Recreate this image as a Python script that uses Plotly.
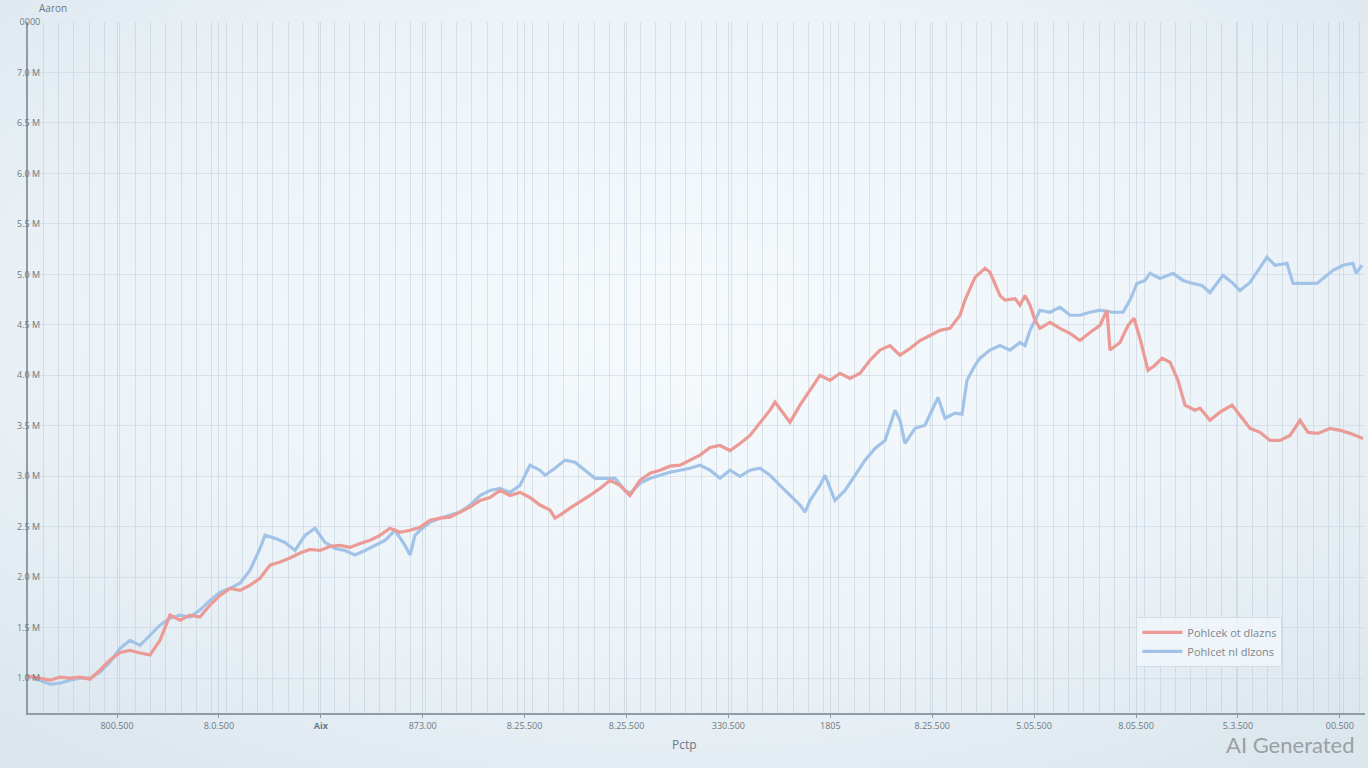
import urllib.parse
import plotly.graph_objects as go

# values (x: sample index, y: axis units)
red_x = [0.0, 1.2, 2.2, 3.2, 4.2, 5.2, 6.2, 7.2, 8.2, 9.2, 10.2, 11.2, 12.2, 13.2, 14.2, 15.2,
         16.2, 17.2, 18.2, 19.2, 20.2, 21.2, 22.2, 23.2, 24.2, 25.2, 26.2, 27.2, 28.2, 29.2, 30.2,
         31.2, 32.2, 33.2, 34.2, 35.2, 36.2, 37.2, 38.2, 39.2, 40.2, 41.2, 42.2, 43.2, 44.2, 45.2,
         46.2, 47.2, 48.2, 49.2, 50.2, 51.2, 52.2, 52.7, 53.2, 54.2, 55.2, 56.2, 57.2, 58.2, 59.2,
         60.2, 61.2, 62.2, 63.2, 64.2, 65.2, 66.2, 67.2, 68.2, 69.2, 70.2, 71.2, 72.2, 73.2, 74.2,
         74.7, 75.7, 76.2, 77.2, 78.2, 79.2, 80.2, 81.2, 82.2, 83.2, 84.2, 85.2, 86.2, 87.2, 88.2,
         89.2, 90.2, 91.2, 92.2, 93.2, 93.7, 94.7, 95.7, 96.2, 97.2, 97.7, 98.7, 99.2, 99.7, 100.2,
         100.7, 101.2, 102.2, 103.2, 104.2, 105.2, 106.2, 107.2, 107.9, 108.2, 109.2, 110.0, 110.6,
         111.2, 112.0, 112.7, 113.4, 114.2, 115.0, 115.7, 116.7, 117.2, 118.2, 119.2, 120.4, 121.2,
         122.2, 123.2, 124.2, 125.2, 126.2, 127.2, 128.0, 129.0, 130.2, 131.2, 132.2, 133.5]
red_y = [1.04, 1.00, 0.96, 1.02, 1.00, 1.02, 0.98, 1.16, 1.36, 1.51, 1.55, 1.50, 1.46, 1.75, 2.25,
         2.15, 2.25, 2.21, 2.45, 2.64, 2.78, 2.74, 2.84, 2.98, 3.24, 3.30, 3.38, 3.48, 3.55, 3.53,
         3.61, 3.63, 3.59, 3.67, 3.73, 3.83, 3.97, 3.89, 3.93, 3.99, 4.13, 4.17, 4.19, 4.29, 4.39,
         4.52, 4.58, 4.72, 4.62, 4.68, 4.58, 4.43, 4.33, 4.17, 4.23, 4.37, 4.49, 4.62, 4.76, 4.92,
         4.82, 4.62, 4.92, 5.06, 5.12, 5.20, 5.22, 5.32, 5.42, 5.57, 5.61, 5.51, 5.65, 5.81, 6.05,
         6.31, 6.47, 6.21, 6.07, 6.41, 6.70, 7.00, 6.90, 7.04, 6.94, 7.04, 7.30, 7.50, 7.59, 7.40,
         7.53, 7.69, 7.79, 7.89, 7.93, 8.19, 8.49, 8.94, 9.12, 9.04, 8.58, 8.49, 8.52, 8.39, 8.58,
         8.39, 8.09, 7.93, 8.05, 7.93, 7.83, 7.69, 7.85, 7.99, 8.29, 7.50, 7.65, 7.99, 8.13, 7.73,
         7.10, 7.20, 7.34, 7.26, 6.90, 6.41, 6.31, 6.35, 6.11, 6.27, 6.41, 6.21, 5.95, 5.87, 5.71,
         5.71, 5.81, 6.11, 5.87, 5.85, 5.95, 5.91, 5.85, 5.75]

blue_x = [0.0, 1.2, 2.2, 3.2, 4.2, 5.2, 6.2, 7.2, 8.2, 9.2, 10.2, 11.2, 12.2, 13.2, 14.2, 15.2,
          16.2, 17.2, 18.2, 19.2, 20.2, 21.2, 22.2, 23.2, 23.7, 24.7, 25.7, 26.7, 27.7, 28.7, 29.7,
          30.7, 31.7, 32.7, 33.7, 34.7, 35.7, 36.7, 37.7, 38.2, 38.7, 39.2, 40.2, 41.2, 42.2, 43.2,
          44.2, 45.2, 46.2, 47.2, 48.2, 49.2, 49.7, 50.2, 51.2, 51.7, 52.7, 53.7, 54.7, 55.7, 56.7,
          57.7, 58.7, 59.7, 60.2, 61.2, 62.2, 63.2, 64.2, 65.2, 66.2, 67.2, 68.2, 69.2, 70.2, 71.2,
          72.2, 73.2, 74.2, 75.2, 76.2, 77.2, 77.7, 78.2, 79.2, 79.7, 80.7, 81.7, 82.7, 83.7, 84.7,
          85.7, 86.7, 87.2, 87.7, 88.7, 89.7, 91.0, 91.7, 92.7, 93.4, 93.9, 94.7, 95.2, 96.2, 97.2,
          98.2, 99.2, 99.7, 100.2, 101.2, 102.2, 103.2, 104.2, 105.2, 106.2, 107.2, 108.4, 109.5,
          110.2, 110.9, 111.7, 112.2, 113.2, 114.5, 115.5, 116.5, 117.4, 118.2, 119.5, 120.4, 121.2,
          122.2, 123.2, 123.9, 124.7, 125.9, 126.5, 127.7, 128.9, 130.5, 131.5, 132.5, 132.8, 133.4]
blue_y = [1.04, 0.96, 0.88, 0.90, 0.96, 1.00, 1.00, 1.12, 1.32, 1.59, 1.75, 1.65, 1.85, 2.05, 2.19,
          2.25, 2.21, 2.35, 2.54, 2.70, 2.78, 2.88, 3.14, 3.57, 3.83, 3.77, 3.69, 3.53, 3.83, 3.97,
          3.69, 3.57, 3.53, 3.44, 3.53, 3.63, 3.73, 3.93, 3.63, 3.44, 3.83, 3.93, 4.09, 4.17, 4.23,
          4.29, 4.43, 4.62, 4.72, 4.76, 4.68, 4.82, 5.02, 5.22, 5.12, 5.02, 5.16, 5.32, 5.28, 5.12,
          4.96, 4.96, 4.96, 4.72, 4.66, 4.86, 4.96, 5.02, 5.08, 5.12, 5.16, 5.22, 5.12, 4.96, 5.12,
          5.00, 5.12, 5.16, 5.02, 4.82, 4.62, 4.43, 4.29, 4.52, 4.82, 5.02, 4.52, 4.72, 5.02, 5.32,
          5.55, 5.71, 6.31, 6.11, 5.65, 5.95, 6.01, 6.56, 6.15, 6.25, 6.23, 6.90, 7.20, 7.34, 7.50,
          7.59, 7.50, 7.65, 7.59, 7.89, 8.29, 8.25, 8.35, 8.19, 8.19, 8.25, 8.29, 8.25, 8.25, 8.49,
          8.82, 8.88, 9.02, 8.92, 9.02, 8.88, 8.82, 8.78, 8.64, 8.98, 8.84, 8.68, 8.84, 9.12, 9.34,
          9.18, 9.22, 8.82, 8.82, 8.82, 9.08, 9.18, 9.22, 9.02, 9.18]

series_names = ["Pohlcek ot dlazns", "Pohlcet nl dlzons"]

y_tick_labels = ["1.0 M", "1.5 M", "2.0 M", "2.5 M", "3.0 M", "3.5 M", "4.0 M",
                 "4.5 M", "5.0 M", "5.5 M", "6.0 M", "6.5 M", "7.0 M", "0000"]
x_tick_labels = ["800.500", "8.0.500", "<b>Aix</b>", "873.00", "8.25.500", "8.25.500",
                 "330.500", "1805", "8.25.500", "5.05.500", "8.05.500", "5.3.500", "00.500"]

fig = go.Figure()
fig.add_trace(go.Scatter(x=blue_x, y=blue_y, mode="lines", name=series_names[1],
                         line=dict(color="#a2c3e8", width=3.2), legendrank=2))
fig.add_trace(go.Scatter(x=red_x, y=red_y, mode="lines", name=series_names[0],
                         line=dict(color="#eb9a96", width=3.2), legendrank=1))

# soft radial background like the reference
svg = ('<svg xmlns="http://www.w3.org/2000/svg" width="1368" height="768">'
       '<defs><radialGradient id="g" cx="50%" cy="42%" r="72%">'
       '<stop offset="0" stop-color="#f6fafd"/><stop offset="0.6" stop-color="#ecf3f8"/>'
       '<stop offset="1" stop-color="#dbe6ed"/></radialGradient></defs>'
       '<rect width="1368" height="768" fill="url(#g)"/></svg>')
bg_src = "data:image/svg+xml;charset=utf-8," + urllib.parse.quote(svg)

x_tickvals = [8.9 + 10.19 * i for i in range(len(x_tick_labels))]

fig.update_layout(
    width=1368, height=768,
    margin=dict(l=28, r=3, t=22, b=55),
    paper_bgcolor="#e4edf3",
    plot_bgcolor="rgba(0,0,0,0)",
    font=dict(family="Open Sans, DejaVu Sans, sans-serif", color="#6d7880"),
    showlegend=True,
    legend=dict(x=0.829, y=0.139, xanchor="left", yanchor="top",
                bgcolor="rgba(241,246,250,0.85)", bordercolor="#d3dce2", borderwidth=1,
                font=dict(size=11, color="#7d868c"), tracegroupgap=0,
                itemwidth=40),
    images=[dict(source=bg_src, xref="paper", yref="paper", x=-28 / 1337, y=713 / 691,
                 sizex=1368 / 1337, sizey=768 / 691, sizing="stretch", layer="below",
                 xanchor="left", yanchor="top")],
    xaxis=dict(range=[0, 133.7], tickmode="array", tickvals=x_tickvals,
               ticktext=x_tick_labels, tickfont=dict(size=9, color="#6f7a82"),
               showgrid=True, gridcolor="rgba(180,196,208,0.45)", gridwidth=1,
               showline=True, linecolor="#8f9ca6", linewidth=2,
               ticks="outside", ticklen=3, tickcolor="#8f9ca6",
               minor=dict(tick0=0.0, dtick=1.53, showgrid=True,
                          gridcolor="rgba(180,196,208,0.42)", gridwidth=1, ticks=""),
               zeroline=False, fixedrange=True),
    yaxis=dict(range=[0.31, 14.0], tickmode="array", tickvals=list(range(1, 15)),
               ticktext=y_tick_labels, tickfont=dict(size=9, color="#6f7a82"),
               showgrid=True, gridcolor="rgba(200,212,222,0.55)", gridwidth=1,
               showline=True, linecolor="#8f9ca6", linewidth=2,
               ticks="", ticklabelstandoff=-16,
               zeroline=False, fixedrange=True),
    annotations=[
        dict(text="Aaron", xref="paper", yref="paper", x=0.0187, y=1.02,
             xanchor="center", yanchor="middle", showarrow=False,
             font=dict(size=10, color="#6d7880")),
        dict(text="Pctp", xref="paper", yref="paper", x=0.491, y=-0.046,
             xanchor="center", yanchor="middle", showarrow=False,
             font=dict(size=12, color="#6d7880")),
        dict(text="AI Generated", xref="paper", yref="paper", x=0.994, y=-0.046,
             xanchor="right", yanchor="middle", showarrow=False,
             font=dict(size=22, color="#9a9fa3", family="Lato, Open Sans, sans-serif")),
    ],
)

fig.write_html("out.html", config={"displayModeBar": False},
               post_script="document.body.style.margin='0';")
